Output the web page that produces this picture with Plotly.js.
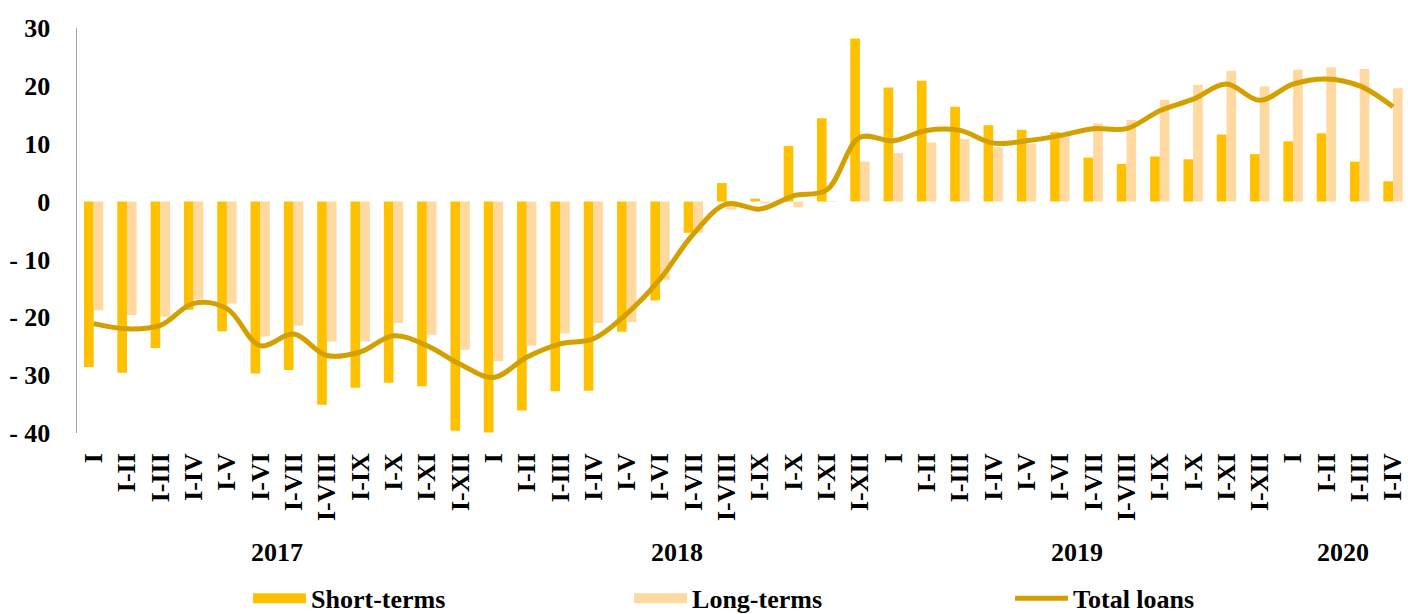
<!DOCTYPE html>
<html>
<head>
<meta charset="utf-8">
<script src="https://cdn.plot.ly/plotly-3.0.1.min.js"></script>
<style>html,body{margin:0;padding:0;background:#fff;}#chart{width:1408px;height:614px;}</style>
</head>
<body>
<div id="chart"></div>
<script>
const periods = [
  'I','I-II','I-III','I-IV','I-V','I-VI','I-VII','I-VIII','I-IX','I-X','I-XI','I-XII',
  'I','I-II','I-III','I-IV','I-V','I-VI','I-VII','I-VIII','I-IX','I-X','I-XI','I-XII',
  'I','I-II','I-III','I-IV','I-V','I-VI','I-VII','I-VIII','I-IX','I-X','I-XI','I-XII',
  'I','I-II','I-III','I-IV'
];
const years = ['2017','2018','2019','2020'];
const periodsPerYear = [12, 12, 12, 4];

const shortTerms = [
  -28.6,-29.6,-25.3,-18.7,-22.4,-29.7,-29.1,-35.1,-32.2,-31.3,-31.9,-39.6,
  -39.9,-36.1,-32.8,-32.7,-22.5,-17.1,-5.4,3.2,0.5,9.6,14.4,28.2,
  19.7,20.9,16.4,13.2,12.4,12.0,7.6,6.5,7.8,7.3,11.6,8.2,
  10.4,11.8,6.9,3.5
];
const longTerms = [
  -18.8,-19.6,-19.9,-16.9,-17.6,-23.3,-21.4,-24.2,-24.2,-21.0,-23.0,-25.6,
  -27.6,-24.9,-22.8,-21.0,-20.8,-13.5,-5.4,-1.4,-0.3,-1.0,0.1,6.9,
  8.4,10.2,10.8,9.4,10.0,11.4,13.5,14.1,17.6,20.2,22.6,19.9,
  22.8,23.2,22.9,19.6
];
const totalLoans = [
  -21.1,-22.0,-21.4,-17.6,-18.5,-24.9,-22.9,-26.6,-26.0,-23.2,-24.9,-28.1,
  -30.4,-26.9,-24.6,-23.7,-19.4,-13.4,-5.6,-0.4,-1.3,1.0,2.0,11.1,
  10.5,12.3,12.3,10.1,10.5,11.4,12.6,12.6,15.7,17.7,20.3,17.5,
  20.3,21.2,20.0,16.4
];
const yTickVals = [30, 20, 10, 0, -10, -20, -30, -40];
const yTickText = ['30', '20', '10', '0', '- 10', '- 20', '- 30', '- 40'];

const idx = periods.map((_, i) => i);
const FONT = '"Liberation Serif", "Times New Roman", Times, serif';
const F = {family: FONT, size: 26, color: '#000', weight: 'bold'};
const C_SHORT = '#FFC000', C_LONG = '#FFD9A0', C_TOTAL = '#D4A000';

const traces = [
  {type: 'bar', name: 'Short-terms', x: idx, y: shortTerms, legendgroup: 's',
   showlegend: false, marker: {color: C_SHORT}, hoverinfo: 'y'},
  {type: 'bar', name: 'Long-terms', x: idx, y: longTerms, legendgroup: 'l',
   showlegend: false, marker: {color: C_LONG}, hoverinfo: 'y'},
  {type: 'scatter', mode: 'lines', name: 'Total loans', x: idx, y: totalLoans,
   showlegend: false, legendgroup: 't',
   line: {color: C_TOTAL, width: 5, shape: 'spline', smoothing: 1}},
  // legend swatches (wide rectangles as in the original legend)
  {type: 'scatter', mode: 'lines', name: 'Short-terms', x: [null], y: [null],
   legendgroup: 's', line: {color: C_SHORT, width: 14}, hoverinfo: 'skip'},
  {type: 'scatter', mode: 'lines', name: 'Long-terms', x: [null], y: [null],
   legendgroup: 'l', line: {color: C_LONG, width: 14}, hoverinfo: 'skip'},
  {type: 'scatter', mode: 'lines', name: 'Total loans', x: [null], y: [null],
   legendgroup: 't', line: {color: C_TOTAL, width: 5}, hoverinfo: 'skip'}
];

const annotations = [];
let start = 0;
years.forEach((yr, k) => {
  const n = periodsPerYear[k];
  annotations.push({
    text: yr, x: start + (n - 1) / 2, xref: 'x', y: -0.294, yref: 'paper',
    showarrow: false, xanchor: 'center', yanchor: 'middle', font: F
  });
  start += n;
});

const layout = {
  width: 1408, height: 614,
  margin: {l: 77, r: 0, t: 28, b: 181, autoexpand: false},
  paper_bgcolor: '#fff', plot_bgcolor: '#fff',
  font: F,
  barmode: 'group', bargap: 0.42, bargroupgap: 0,
  xaxis: {
    range: [-0.5, 39.45], tickvals: idx, ticktext: periods, tickangle: -90,
    showline: false, showgrid: false, zeroline: false, ticks: '',
    ticklabelstandoff: 14, ticklabeloverflow: 'allow', automargin: false,
    tickfont: F
  },
  yaxis: {
    range: [-40, 30], tickvals: yTickVals, ticktext: yTickText,
    showline: true, linecolor: '#A6A6A6', linewidth: 1.5,
    showgrid: false, zeroline: false, ticks: '', automargin: false,
    ticklabelstandoff: 20,
    tickfont: F
  },
  showlegend: true,
  legend: {
    orientation: 'h', x: 0.1285, xanchor: 'left', y: -0.35, yanchor: 'top',
    entrywidth: 313, entrywidthmode: 'pixels', itemwidth: 53,
    font: F, traceorder: 'normal', tracegroupgap: 0
  },
  annotations: annotations
};

Plotly.newPlot('chart', traces, layout, {displayModeBar: false, staticPlot: true});
</script>
</body>
</html>
